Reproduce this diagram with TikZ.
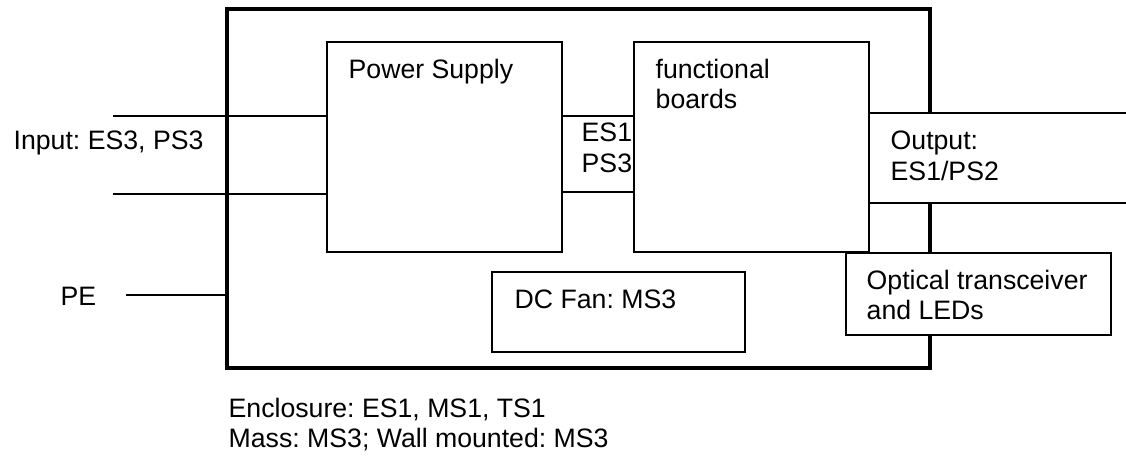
\documentclass[tikz,border=0pt]{standalone}
\usepackage{fontspec}
\setmainfont{Liberation Sans}
\frenchspacing

\begin{document}
\begin{tikzpicture}[x=0.75pt,y=-0.75pt,line width=1pt,
  blk/.style={draw,line width=1pt,fill=white,inner sep=0pt,outer sep=0pt},
  frame/.style={draw,line width=2.4pt,inner sep=0pt,outer sep=0pt},
  lbl/.style={anchor=base west,inner sep=0pt,font=\fontsize{20}{22.5}\selectfont}]

\useasboundingbox (0,0) rectangle (1126,457);

% boxes
\node[frame,minimum width=527.25pt,minimum height=269.25pt] (encl) at (578.5,188.5) {}; %enclosure
\node[blk,minimum width=176.25pt,minimum height=157.5pt] (psu) at (444.5,147) {};
\node[blk,minimum width=54pt,minimum height=57pt] (mid) at (598,154) {};
\node[blk,minimum width=176.25pt,minimum height=157.5pt] (brd) at (751.5,147) {};
\node[blk,minimum width=203.25pt,minimum height=67.5pt] (out) at (1004.5,158) {}; %runs off the page
\node[blk,minimum width=198.75pt,minimum height=61.5pt] (opt) at (978.5,294) {};
\node[blk,minimum width=189.75pt,minimum height=60pt] (fan) at (618.5,312) {};

% wires
\coordinate (in1) at (113,116);
\coordinate (in2) at (113,194);
\coordinate (pe) at (126,295);
\draw (in1) -- (in1 -| psu.west);
\draw (in2) -- (in2 -| psu.west);
\draw (pe) -- (pe -| encl.west);

% labels
\node[lbl] (tin) at (13,149) {Input: ES3, PS3};
\node[lbl] (tpe) at (60,305) {PE};
\node[lbl] (tpsu) at (348,78) {Power Supply};
\node[lbl] (tbrd1) at (655,78) {functional};
\node[lbl] (tbrd2) at (655,108) {boards};
\node[lbl] (tmid1) at (581,141) {ES1};
\node[lbl] (tmid2) at (581,172) {PS3};
\node[lbl] (tout1) at (890,149) {Output:};
\node[lbl] (tout2) at (890,180) {ES1/PS2};
\node[lbl] (topt1) at (866,289) {Optical transceiver};
\node[lbl] (topt2) at (866,319) {and LEDs};
\node[lbl] (tfan) at (514,308) {DC Fan: MS3};
\node[lbl] (tenc1) at (228,417) {Enclosure: ES1, MS1, TS1};
\node[lbl] (tenc2) at (228,447) {Mass: MS3; Wall mounted: MS3};

\end{tikzpicture}
\end{document}
